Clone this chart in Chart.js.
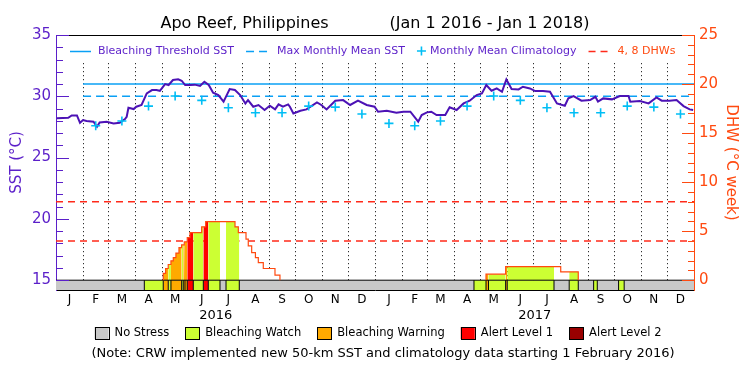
<!DOCTYPE html>
<html>
<head>
<meta charset="utf-8">
<script src="https://cdn.jsdelivr.net/npm/chart.js@4.4.0/dist/chart.umd.min.js"></script>
<style>
  html, body { margin: 0; padding: 0; background: #fff; }
  #wrap { width: 750px; height: 375px; }
</style>
</head>
<body>
<div id="wrap"><canvas id="myChart" width="750" height="375"></canvas></div>
<script>
// axis labels
const monthLetters = ['J', 'F', 'M', 'A', 'M', 'J', 'J', 'A', 'S', 'O', 'N', 'D'];
const yearLabels = ['2016', '2017'];
const monthLengths = [31, 29, 31, 30, 31, 30, 31, 31, 30, 31, 30, 31,
                      31, 28, 31, 30, 31, 30, 31, 31, 30, 31, 30, 31];

// daily SST (day counted from Jan 1 2016)
const sstDays = [1, 14, 18, 24, 27.5, 31, 35, 43, 47, 50, 58, 66, 73, 79, 81, 83, 89, 92, 98, 104,
  110, 115, 119, 125, 129, 134, 140, 144, 148, 154, 159, 165, 170, 175, 180, 186, 192, 199, 205, 211,
  217, 220, 226, 232, 239, 245, 251, 255, 260, 266, 268, 272, 280, 287, 299, 304, 310, 320, 329, 337,
  346, 356, 365, 369, 379, 390, 398, 406, 415, 419, 425, 430, 436, 446, 451, 459, 467, 474, 482, 488,
  493, 499, 505, 511, 516, 522, 530, 535, 543, 549, 558, 566, 574, 583, 587, 593, 602, 612, 618, 621,
  627, 637, 646, 656, 658, 669, 679, 688, 694, 703, 711, 719, 726, 730];
const sstValues = [28.20, 28.25, 28.44, 28.44, 27.84, 28.06, 27.98, 27.93, 27.52, 27.87, 27.93, 27.79, 27.84, 28.14, 28.33, 29.07, 28.96, 29.15, 29.29, 30.24,
  30.51, 30.51, 30.45, 31.00, 30.92, 31.33, 31.38, 31.27, 30.92, 30.92, 30.95, 30.84, 31.19, 30.92, 30.29, 30.10, 29.56, 30.59, 30.51, 30.10,
  29.42, 29.69, 29.15, 29.29, 28.88, 29.23, 28.93, 29.34, 29.15, 29.34, 29.15, 28.60, 28.82, 28.93, 29.50, 29.29, 28.93, 29.64, 29.69, 29.29,
  29.64, 29.29, 29.15, 28.74, 28.82, 28.66, 28.74, 28.74, 27.93, 28.47, 28.69, 28.74, 28.47, 28.47, 29.10, 28.88, 29.42, 29.64, 30.10, 30.24,
  30.92, 30.45, 30.64, 30.37, 31.38, 30.59, 30.56, 30.78, 30.64, 30.43, 30.43, 30.37, 29.42, 29.23, 29.83, 30.02, 29.64, 29.69, 29.96, 29.56,
  29.83, 29.75, 30.02, 30.02, 29.56, 29.61, 29.42, 29.91, 29.64, 29.64, 29.69, 29.20, 28.93, 28.88];

// monthly mean climatology, Jan..Dec (shown from Feb 2016)
const climMonthly = [27.79, 27.60, 27.98, 29.20, 30.02, 29.67, 29.07, 28.66, 28.66, 29.20, 29.12, 28.55];
const climFirstMonth = 1;

const mmm = 30.0;
const bleachingThreshold = 31.0;
const thresholdStartDay = 31;
const dhwLevels = [4, 8];

// degree heating weeks, step values (value holds from that day on)
const dhwDays = [122.9, 125.6, 128.6, 131.7, 134.4, 137.4, 140.9, 143.9, 147, 150.4, 153.5, 166.9, 171.5,
  205.1, 208.9, 217.7, 220.3, 224.2, 228.5, 231.8, 237.5, 250.9, 256.6,
  492.7, 515.2, 578.3, 598.4];
const dhwValues = [0.70, 1.19, 1.60, 1.97, 2.30, 2.76, 3.33, 3.60, 3.91, 4.35, 4.86, 5.44, 5.98,
  5.44, 4.86, 4.18, 3.50, 2.82, 2.31, 1.80, 1.19, 0.51, 0,
  0.61, 1.38, 0.85, 0];

// stress level periods: boundaries and level of each period
const stressBounds = [0, 101.2, 122.9, 128.6, 131.7, 144, 145.8, 147.8, 150.4, 157.3, 168.8, 174.5, 187.9, 194.8, 210,
  478.9, 492.7, 495.5, 515.2, 517, 570.6, 588, 598.4, 616, 620.2, 644.6, 651, 731];
const stressLevels = [0, 1, 2, 1, 2, 1, 2, 2, 3, 1, 3, 1, 0, 1, 0,
  1, 2, 1, 2, 1, 0, 1, 0, 1, 0, 1, 0];

const stressNames = ['No Stress', 'Bleaching Watch', 'Bleaching Warning', 'Alert Level 1', 'Alert Level 2'];
const stressColors = ['#c8c8c8', '#ccff33', '#ffaa00', '#ff0000', '#990000'];
const dhwFillColors = ['#ffffff', '#ccff33', '#ffaa00', '#ff0000', '#990000'];

const FONT = "'DejaVu Sans', sans-serif";
const PURPLE = '#5b1fc9';
const SST_COLOR = '#4c12b5';
const BLUE = '#0aa0f5';
const CYAN = '#00bef5';
const RED = '#ff2a1a';
const ORANGE = '#ff4a10';

// calendar positions
const monthStarts = [];
let acc = 0;
monthLengths.forEach(n => { monthStarts.push(acc); acc += n; });
const totalDays = acc;
const monthMids = monthStarts.map((s, i) => s + monthLengths[i] / 2);
const yearMids = [183, 366 + 182.5];

function dhwAt(d) {
  let v = 0;
  dhwDays.forEach((day, i) => { if (day <= d) v = dhwValues[i]; });
  return v;
}

function stepPoints(a, b) {
  const pts = [{ x: a, y: dhwAt(a) }];
  dhwDays.forEach((d, i) => {
    if (d > a && d < b) {
      pts.push({ x: d, y: dhwAt(d - 1e-6) });
      pts.push({ x: d, y: dhwValues[i] });
    }
  });
  pts.push({ x: b, y: dhwAt(b - 1e-6) });
  return pts;
}

// outline of DHW
const dhwOutline = [];
let prev = 0;
dhwDays.forEach((d, i) => {
  dhwOutline.push({ x: d, y: prev });
  dhwOutline.push({ x: d, y: dhwValues[i] });
  prev = dhwValues[i];
  if (prev === 0) dhwOutline.push({ x: d, y: null });
});

const sstPoints = sstDays.map((d, i) => ({ x: d, y: sstValues[i] }));
const climPoints = [];
for (let m = climFirstMonth; m < monthMids.length; m++) {
  climPoints.push({ x: monthMids[m], y: climMonthly[m % 12] });
}

const bandFills = [];
const dhwFills = [];
const separators = [];
stressLevels.forEach((lvl, i) => {
  const a = stressBounds[i], b = stressBounds[i + 1];
  bandFills.push({
    data: [{ x: a, y: 15 }, { x: b, y: 15 }],
    yAxisID: 'y', fill: 'start', backgroundColor: stressColors[lvl],
    borderWidth: 0, pointRadius: 0
  });
  dhwFills.push({
    data: stepPoints(a, b),
    yAxisID: 'y2', fill: 'origin', backgroundColor: dhwFillColors[lvl],
    borderWidth: 0, pointRadius: 0
  });
  if (i > 0) {
    separators.push({ x: a, y: 14.2 }, { x: a, y: 15 }, { x: a, y: null });
  }
});

const line = (data, yAxisID, color, width, dash) => ({
  data, yAxisID, borderColor: color, borderWidth: width, borderDash: dash || [],
  pointRadius: 0, fill: false, tension: 0
});

// first dataset is drawn on top
const datasets = [
  {
    data: climPoints, yAxisID: 'y', showLine: false, pointStyle: 'cross',
    pointRadius: 4.5, borderColor: CYAN, backgroundColor: CYAN, pointBorderWidth: 1.6
  },
  line(sstPoints, 'y', SST_COLOR, 2),
  line([{ x: thresholdStartDay, y: bleachingThreshold }, { x: totalDays, y: bleachingThreshold }], 'y', BLUE, 1.5),
  line([{ x: thresholdStartDay, y: mmm }, { x: totalDays, y: mmm }], 'y', BLUE, 1.5, [8, 5]),
  line(dhwOutline, 'y2', ORANGE, 1.2),
  line(separators, 'y', '#000', 1),
  line([{ x: 0, y: 15 }, { x: totalDays, y: 15 }], 'y', '#000', 1),
  ...dhwFills,
  ...bandFills,
  ...dhwLevels.map(v => line([{ x: 0, y: v }, { x: totalDays, y: v }], 'y2', RED, 1.4, [7, 5]))
];

const extras = {
  id: 'extras',
  beforeDatasetsDraw(chart) {
    const { ctx, scales: { x, y } } = chart;
    ctx.save();
    ctx.strokeStyle = '#000';
    ctx.lineWidth = 1;
    ctx.setLineDash([1, 3]);
    monthStarts.slice(1).forEach(d => {
      const px = Math.round(x.getPixelForValue(d)) + 0.5;
      ctx.beginPath();
      ctx.moveTo(px, y.getPixelForValue(32.7));
      ctx.lineTo(px, y.getPixelForValue(15));
      ctx.stroke();
    });
    ctx.restore();
  },
  afterDraw(chart) {
    const { ctx, chartArea: a, scales: { y, y2 } } = chart;
    ctx.save();
    // frame top
    ctx.strokeStyle = '#000';
    ctx.lineWidth = 1;
    ctx.beginPath();
    ctx.moveTo(a.left, Math.round(a.top) + 0.5);
    ctx.lineTo(a.right, Math.round(a.top) + 0.5);
    ctx.stroke();

    // inward ticks
    ctx.strokeStyle = PURPLE;
    for (let v = 15; v <= 35; v++) {
      const py = Math.round(y.getPixelForValue(v)) + 0.5;
      ctx.beginPath();
      ctx.moveTo(a.left, py);
      ctx.lineTo(a.left + (v % 5 === 0 ? 13 : 7), py);
      ctx.stroke();
    }
    ctx.strokeStyle = ORANGE;
    for (let v = 0; v <= 25; v++) {
      const py = Math.round(y2.getPixelForValue(v)) + 0.5;
      ctx.beginPath();
      ctx.moveTo(a.right, py);
      ctx.lineTo(a.right - (v % 5 === 0 ? 12 : 6), py);
      ctx.stroke();
    }

    // legend inside the plot
    ctx.font = '11px ' + FONT;
    ctx.textBaseline = 'middle';
    ctx.textAlign = 'left';
    const ly = 51;
    let lx = 70;
    const sample = (color, dash, w) => {
      ctx.strokeStyle = color;
      ctx.lineWidth = 1.5;
      ctx.setLineDash(dash);
      ctx.beginPath();
      ctx.moveTo(lx, ly + 0.5);
      ctx.lineTo(lx + w, ly + 0.5);
      ctx.stroke();
      ctx.setLineDash([]);
      lx += w + 7;
    };
    const label = (text, color) => {
      ctx.fillStyle = color;
      ctx.fillText(text, lx, ly);
      lx += ctx.measureText(text).width + 12;
    };
    sample(BLUE, [], 21);
    label('Bleaching Threshold SST', PURPLE);
    sample(BLUE, [8, 5], 24);
    label('Max Monthly Mean SST', PURPLE);
    ctx.strokeStyle = CYAN;
    ctx.lineWidth = 1.6;
    ctx.beginPath();
    ctx.moveTo(lx, ly); ctx.lineTo(lx + 9, ly);
    ctx.moveTo(lx + 4.5, ly - 4.5); ctx.lineTo(lx + 4.5, ly + 4.5);
    ctx.stroke();
    lx += 13;
    label('Monthly Mean Climatology', PURPLE);
    sample(RED, [7, 5], 22);
    label('4, 8 DHWs', ORANGE);

    // stress legend below
    ctx.font = '11.5px ' + FONT;
    const boxW = 14, boxH = 12, boxGap = 6, itemGap = 16;
    const widths = stressNames.map(n => boxW + boxGap + ctx.measureText(n).width);
    const total = widths.reduce((s, w) => s + w, 0) + itemGap * (widths.length - 1);
    let bx = 378 - total / 2;
    const by = 333;
    stressNames.forEach((n, i) => {
      ctx.fillStyle = stressColors[i];
      ctx.fillRect(bx, by - boxH / 2, boxW, boxH);
      ctx.strokeStyle = '#000';
      ctx.lineWidth = 1;
      ctx.strokeRect(Math.round(bx) + 0.5, Math.round(by - boxH / 2) + 0.5, boxW, boxH);
      ctx.fillStyle = '#000';
      ctx.fillText(n, bx + boxW + boxGap, by + 0.5);
      bx += widths[i] + itemGap;
    });

    ctx.font = '13px ' + FONT;
    ctx.textAlign = 'center';
    ctx.fillText('(Note: CRW implemented new 50-km SST and climatology data starting 1 February 2016)', 383, 354);
    ctx.restore();
  }
};

new Chart(document.getElementById('myChart').getContext('2d'), {
  type: 'line',
  data: { datasets },
  options: {
    responsive: false,
    animation: false,
    events: [],
    layout: { padding: 0 },
    plugins: {
      legend: { display: false },
      tooltip: { enabled: false },
      title: {
        display: true,
        text: 'Apo Reef, Philippines            (Jan 1 2016 - Jan 1 2018)',
        color: '#000',
        font: { family: FONT, size: 16, weight: 'normal' },
        padding: { top: 14, bottom: 1.8 }
      }
    },
    scales: {
      x: {
        type: 'linear', position: 'bottom', min: 0, max: totalDays,
        afterFit: s => { s.height = 16; },
        afterBuildTicks: s => { s.ticks = monthMids.map(v => ({ value: v })); },
        ticks: {
          autoSkip: false, maxRotation: 0, padding: 3, color: '#000',
          font: { family: FONT, size: 12 },
          callback: (v, i) => monthLetters[i % 12]
        },
        grid: { drawOnChartArea: false, drawTicks: false },
        border: { color: '#000', width: 1 }
      },
      xYear: {
        axis: 'x', type: 'linear', position: 'bottom', min: 0, max: totalDays,
        afterFit: s => { s.height = 69; },
        afterBuildTicks: s => { s.ticks = yearMids.map(v => ({ value: v })); },
        ticks: {
          autoSkip: false, maxRotation: 0, padding: 2, color: '#000',
          font: { family: FONT, size: 13 },
          callback: (v, i) => yearLabels[i]
        },
        grid: { display: false, drawTicks: false },
        border: { display: false }
      },
      y: {
        type: 'linear', position: 'left', min: 14.2, max: 35,
        afterFit: s => { s.width = 56; },
        afterBuildTicks: s => { s.ticks = [15, 20, 25, 30, 35].map(v => ({ value: v })); },
        ticks: { color: PURPLE, padding: 5, font: { family: FONT, size: 15 } },
        grid: { drawOnChartArea: false, drawTicks: false },
        border: { color: PURPLE, width: 1 },
        title: {
          display: true, text: 'SST (°C)', color: PURPLE,
          font: { family: FONT, size: 15 }, padding: { top: 8, bottom: 0 }
        }
      },
      y2: {
        type: 'linear', position: 'right', min: -1, max: 25,
        afterFit: s => { s.width = 56; },
        afterBuildTicks: s => { s.ticks = [0, 5, 10, 15, 20, 25].map(v => ({ value: v })); },
        ticks: { color: ORANGE, padding: 5, font: { family: FONT, size: 15 } },
        grid: { drawOnChartArea: false, drawTicks: false },
        border: { color: ORANGE, width: 1 },
        title: {
          display: true, text: 'DHW (°C week)', color: ORANGE,
          font: { family: FONT, size: 15 }, padding: { top: 10, bottom: 0 }
        }
      }
    }
  },
  plugins: [extras]
});
</script>
</body>
</html>
